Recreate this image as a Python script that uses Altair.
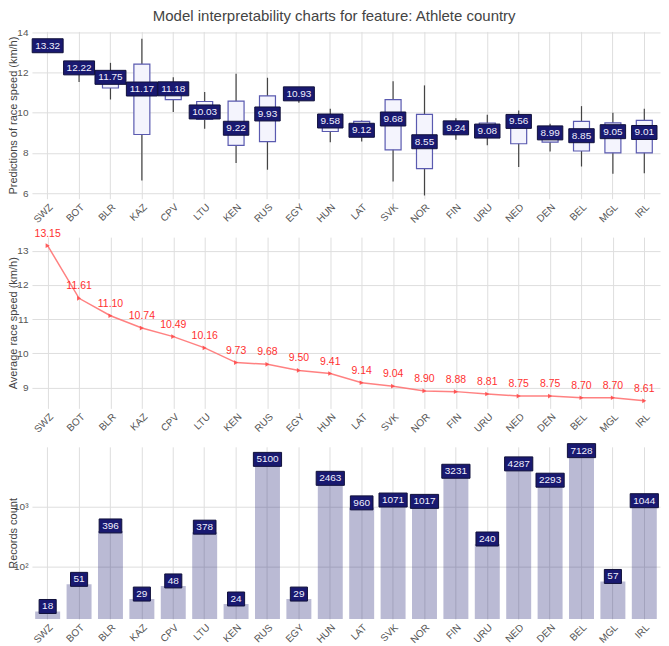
import altair as alt
import pandas as pd

countries = ["SWZ", "BOT", "BLR", "KAZ", "CPV", "LTU", "KEN", "RUS", "EGY", "HUN",
             "LAT", "SVK", "NOR", "FIN", "URU", "NED", "DEN", "BEL", "MGL", "IRL"]

# prediction distribution per country (box plot)
pred_low = [13.02, 11.52, 10.65, 6.63, 10.03, 9.19, 7.49, 7.16, 10.49, 8.53,
            8.56, 6.58, 5.88, 8.65, 8.37, 7.29, 8.07, 7.32, 6.96, 6.99]
pred_q1 = [13.20, 12.05, 11.22, 8.91, 10.64, 9.66, 8.37, 8.56, 10.80, 9.06,
           8.90, 8.15, 7.21, 9.00, 8.80, 8.45, 8.53, 8.09, 8.00, 8.00]
pred_median = [13.32, 12.22, 11.75, 11.17, 11.18, 10.03, 9.22, 9.93, 10.93, 9.58,
               9.12, 9.68, 8.55, 9.24, 9.08, 9.56, 8.99, 8.85, 9.05, 9.01]
pred_q3 = [13.45, 12.40, 12.00, 12.41, 11.35, 10.55, 10.57, 10.83, 11.05, 9.80,
           9.56, 10.64, 9.91, 9.50, 9.48, 9.80, 9.10, 9.56, 9.49, 9.61]
pred_high = [13.60, 12.55, 12.47, 13.67, 11.76, 11.02, 11.93, 11.73, 11.20, 10.19,
             9.60, 11.55, 11.35, 9.72, 9.89, 10.10, 9.44, 10.32, 9.99, 10.19]

avg_speed = [13.15, 11.61, 11.10, 10.74, 10.49, 10.16, 9.73, 9.68, 9.50, 9.41,
             9.14, 9.04, 8.90, 8.88, 8.81, 8.75, 8.75, 8.70, 8.70, 8.61]

records = [18, 51, 396, 29, 48, 378, 24, 5100, 29, 2463,
           960, 1071, 1017, 3231, 240, 4287, 2293, 7128, 57, 1044]

count_ticks_log10 = [2, 3]
count_tick_labels = ["10²", "10³"]

df1 = pd.DataFrame({"country": countries, "lo": pred_low, "q1": pred_q1,
                    "median": pred_median, "q3": pred_q3, "hi": pred_high})
df2 = pd.DataFrame({"country": countries, "avg": avg_speed})
df3 = pd.DataFrame({"country": countries, "records": records})

FONT = "Liberation Sans"
W = 629
NAVY = "#191970"

xenc = alt.X("country:N", sort=countries, title=None,
             scale=alt.Scale(paddingInner=0, paddingOuter=0),
             axis=alt.Axis(labelAngle=-45, labelFontSize=10, labelPadding=3,
                           bandPosition=0.5, grid=True))


def label_boxes(base, yfield, labelexpr, yoff=0):
    b = base.transform_calculate(
        lbl=labelexpr
    ).transform_calculate(
        hasdot="indexof(datum.lbl, '.') >= 0 ? 1 : 0"
    ).transform_calculate(
        w="(length(datum.lbl) - datum.hasdot) * 5.56 + datum.hasdot * 2.78 + 6"
    ).transform_calculate(
        a="14 / datum.w",
        sz="datum.w * datum.w"
    ).transform_calculate(
        shp="'M-1,-' + datum.a + 'L1,-' + datum.a + 'L1,' + datum.a + 'L-1,' + datum.a + 'Z'"
    )
    boxes = b.mark_point(filled=True, color=NAVY, stroke="#10103a", strokeWidth=1,
                         opacity=1, yOffset=yoff).encode(
        x=xenc, y=yfield,
        shape=alt.Shape("shp:N", scale=None, legend=None),
        size=alt.Size("sz:Q", scale=None, legend=None))
    texts = b.mark_text(color="#f0f0ff", fontSize=10, font=FONT, baseline="middle",
                        dy=yoff).encode(x=xenc, y=yfield, text="lbl:N")
    return boxes + texts


AX = dict(titleX=-13, labelPadding=4)

# ---------- panel 1: box plot of predictions ----------
y1 = alt.Y("lo:Q", scale=alt.Scale(domain=[5.72, 14.03], nice=False, zero=False),
           axis=alt.Axis(values=[6, 8, 10, 12, 14], title="Predictions of race speed (km/h)", **AX))
base1 = alt.Chart(df1)
whisk = base1.mark_rule(color="#444444", strokeWidth=1.2).encode(x=xenc, y=y1, y2="hi:Q")
box = base1.mark_bar(width=16, fill="#f4f4fd", stroke="#5a5ab0", strokeWidth=1.2).encode(
    x=xenc, y=alt.Y("q1:Q"), y2="q3:Q")
lab1 = label_boxes(base1, alt.Y("median:Q"), "format(datum.median, '.2f')")
p1 = alt.layer(whisk, box, lab1).properties(width=W, height=167.5)

# ---------- panel 2: average speed line ----------
y2 = alt.Y("avg:Q", scale=alt.Scale(domain=[8.39, 13.4], nice=False, zero=False),
           axis=alt.Axis(values=[9, 10, 11, 12, 13], title="Average race speed (km/h)", **AX))
base2 = alt.Chart(df2)
line = base2.mark_line(color="#ff6b6b", strokeWidth=1.5, opacity=0.85).encode(x=xenc, y=y2)
pts = base2.mark_point(shape="triangle-right", filled=True, color="#ff4d4d", size=22,
                       opacity=0.9).encode(x=xenc, y=y2)
txt2 = base2.mark_text(color="#ff3030", fontSize=10.5, font=FONT, dy=-12).encode(
    x=xenc, y=y2, text=alt.Text("avg:Q", format=".2f"))
p2 = alt.layer(line, pts, txt2).properties(width=W, height=171.5)

# ---------- panel 3: records count (log axis) ----------
tick_expr = " : ".join(
    [f"datum.value == {v} ? '{t}'" for v, t in zip(count_ticks_log10[:-1], count_tick_labels[:-1])]
) + f" : '{count_tick_labels[-1]}'"
base3 = alt.Chart(df3).transform_calculate(lc="log(datum.records) / LN10")
y3 = alt.Y("lc:Q", stack=None,
           scale=alt.Scale(domain=[1.129, 4.0], nice=False, zero=False),
           axis=alt.Axis(values=count_ticks_log10, labelExpr=tick_expr,
                         title="Records count", **AX))
bars = base3.mark_bar(width=25, fill=NAVY, fillOpacity=0.3, clip=True).encode(x=xenc, y=y3)
lab3 = label_boxes(base3, alt.Y("lc:Q"), "'' + datum.records", yoff=-5)
p3 = alt.layer(bars, lab3).properties(width=W, height=172.5)

chart = alt.vconcat(p1, p2, p3, spacing=38, bounds="flush").properties(
    title=alt.TitleParams("Model interpretability charts for feature: Athlete country",
                          fontSize=15, font=FONT, fontWeight="normal", color="#444444",
                          anchor="middle", offset=3),
    padding=0,
).configure_view(stroke=None).configure_axis(
    gridColor="#dedede", gridWidth=1, domain=False, ticks=False,
    labelColor="#555555", titleColor="#444444", labelFont=FONT, titleFont=FONT,
    titleFontSize=11, titleFontWeight="normal", labelFontSize=10
)

chart.save("out.html", embed_options={"renderer": "svg", "actions": False})
